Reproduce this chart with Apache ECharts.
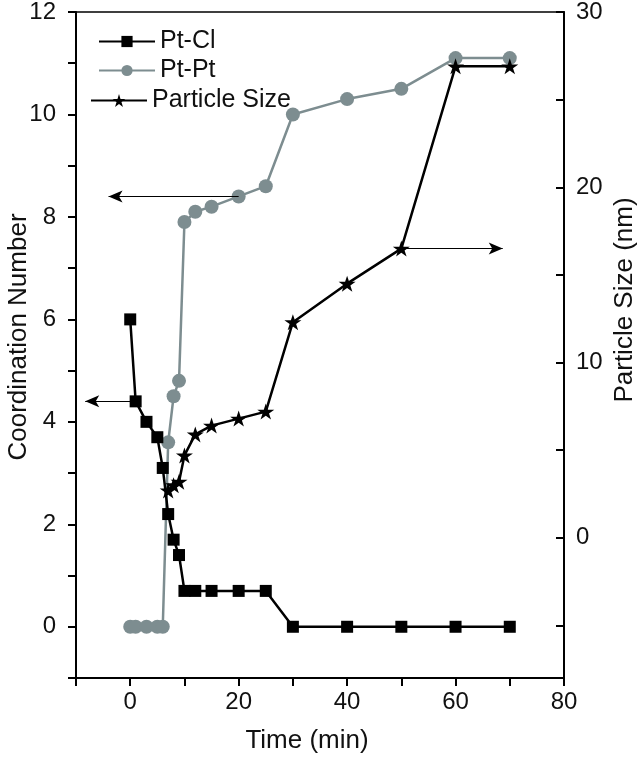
<!DOCTYPE html>
<html>
<head>
<meta charset="utf-8">
<script src="https://cdn.jsdelivr.net/npm/echarts@6/dist/echarts.min.js"></script>
<style>html,body{margin:0;padding:0;background:#fff;}#c{width:640px;height:758px;}</style>
</head>
<body>
<div id="c"></div>
<script>
// ---- data ----
const ptClTime = [0, 1, 3, 5, 6, 7, 8, 9, 10, 12, 15, 20, 25, 30, 40, 50, 60, 70];
const ptClCN   = [6.0, 4.4, 4.0, 3.7, 3.1, 2.2, 1.7, 1.4, 0.7, 0.7, 0.7, 0.7, 0.7, 0, 0, 0, 0, 0];
const ptPtTime = [0, 1, 3, 5, 6, 7, 8, 9, 10, 12, 15, 20, 25, 30, 40, 50, 60, 70];
const ptPtCN   = [0, 0, 0, 0, 0, 3.6, 4.5, 4.8, 7.9, 8.1, 8.2, 8.4, 8.6, 10.0, 10.3, 10.5, 11.1, 11.1];
const sizeTime = [7, 8, 9, 10, 12, 15, 20, 25, 30, 40, 50, 60, 70];
const sizeNm   = [2.7, 3.0, 3.2, 4.7, 5.9, 6.4, 6.8, 7.2, 12.3, 14.5, 16.5, 26.9, 26.9];
const xTickLabels = [0, 20, 40, 60, 80];
const yLeftLabels = [0, 2, 4, 6, 8, 10, 12];
const yRightTicks = [-5, 0, 5, 10, 15, 20, 25, 30];
const yRightLabels = [0, 10, 20, 30];
// arrows: [fromTime, toTime, value]
const arrowPtPt = [20, -4, 8.4];
const arrowPtCl = [1, -8.3, 4.4];
const arrowSize = [50, 68.7, 16.5];

const zip = (a, b) => a.map((v, i) => [v, b[i]]);
const FONT = 'Liberation Sans, Arial, sans-serif';
const GRAY = '#7d8d90';
const STAR = 'path://M50 0 L61.23 34.55 L97.55 34.55 L68.16 55.9 L79.39 90.45 L50 69.1 L20.61 90.45 L31.84 55.9 L2.45 34.55 L38.77 34.55 Z';

function arrowLine(a) {
  return {
    silent: true,
    symbol: ['none', 'arrow'],
    symbolSize: [9, 14],
    label: { show: false },
    lineStyle: { color: '#000', width: 1, type: 'solid' },
    emphasis: { disabled: true },
    data: [[{ coord: [a[0], a[2]] }, { coord: [a[1], a[2]] }]]
  };
}

const chart = echarts.init(document.getElementById('c'), null, { renderer: 'canvas' });
const txt = { color: '#111', fontFamily: FONT, fontSize: 25 };
chart.setOption({
  animation: false,
  backgroundColor: '#fff',
  grid: { left: 76, right: 76, top: 12, bottom: 80, show: true, borderColor: '#000', borderWidth: 1.5,
          containLabel: false, outerBoundsMode: 'none' },
  legend: [
    { data: ['Pt-Cl'], left: 96, top: 27, itemWidth: 56, itemHeight: 14, itemGap: 0, textStyle: txt, selectedMode: false, padding: 2 },
    { data: ['Pt-Pt'], left: 96, top: 56, itemWidth: 56, itemHeight: 14, itemGap: 0, textStyle: txt, selectedMode: false, padding: 2 },
    { data: ['Particle Size'], left: 88, top: 86, itemWidth: 56, itemHeight: 16, itemGap: 0, textStyle: txt, selectedMode: false, padding: 2 }
  ],
  xAxis: {
    type: 'value', min: -10, max: 80, interval: 10,
    name: 'Time (min)', nameLocation: 'middle', nameGap: 50, nameMoveOverlap: false,
    nameTextStyle: { color: '#111', fontFamily: FONT, fontSize: 26, padding: [0, 26, 0, 0] },
    axisLine: { onZero: false, lineStyle: { color: '#000', width: 2 } },
    axisTick: { show: true, inside: false, length: 8, lineStyle: { color: '#000', width: 2 } },
    axisLabel: { color: '#111', fontFamily: FONT, fontSize: 24, margin: 12,
      formatter: v => (xTickLabels.indexOf(v) >= 0 ? String(v) : '') },
    splitLine: { show: false }
  },
  yAxis: [
    {
      type: 'value', min: -1, max: 12, interval: 1, position: 'left',
      name: 'Coordination Number', nameLocation: 'middle', nameGap: 44, nameRotate: 90, nameMoveOverlap: false,
      nameTextStyle: { color: '#111', fontFamily: FONT, fontSize: 26, padding: [0, 0, 0, 16] },
      axisLine: { show: true, onZero: false, lineStyle: { color: '#000', width: 2 } },
      axisTick: { show: true, inside: false, length: 8, lineStyle: { color: '#000', width: 2 } },
      axisLabel: { color: '#111', fontFamily: FONT, fontSize: 24, margin: 20,
        formatter: v => (yLeftLabels.indexOf(v) >= 0 ? String(v) : '') },
      splitLine: { show: false }
    },
    {
      type: 'value', min: -8, max: 30, position: 'right',
      name: 'Particle Size (nm)', nameLocation: 'middle', nameGap: 48, nameRotate: 90, nameMoveOverlap: false,
      nameTextStyle: { color: '#111', fontFamily: FONT, fontSize: 26, padding: [0, 0, 0, 90] },
      axisLine: { show: true, onZero: false, lineStyle: { color: '#000', width: 2 } },
      axisTick: { show: true, inside: true, length: 8, customValues: yRightTicks, lineStyle: { color: '#000', width: 2 } },
      axisLabel: { color: '#111', fontFamily: FONT, fontSize: 24, margin: 12, customValues: yRightLabels },
      splitLine: { show: false }
    }
  ],
  series: [
    {
      name: 'Pt-Cl', type: 'line', yAxisIndex: 0, data: zip(ptClTime, ptClCN),
      symbol: 'rect', symbolSize: 12, showAllSymbol: true,
      lineStyle: { color: '#000', width: 2.5 }, itemStyle: { color: '#000' },
      markLine: arrowLine(arrowPtCl), z: 3
    },
    {
      name: 'Pt-Pt', type: 'line', yAxisIndex: 0, data: zip(ptPtTime, ptPtCN),
      symbol: 'circle', symbolSize: 14, showAllSymbol: true,
      lineStyle: { color: GRAY, width: 2.5 }, itemStyle: { color: GRAY },
      markLine: arrowLine(arrowPtPt), z: 2
    },
    {
      name: 'Particle Size', type: 'line', yAxisIndex: 1, data: zip(sizeTime, sizeNm),
      symbol: STAR, symbolSize: [17, 16], showAllSymbol: true,
      lineStyle: { color: '#000', width: 2.5 }, itemStyle: { color: '#000' },
      markLine: arrowLine(arrowSize), z: 4
    }
  ]
});
</script>
</body>
</html>
